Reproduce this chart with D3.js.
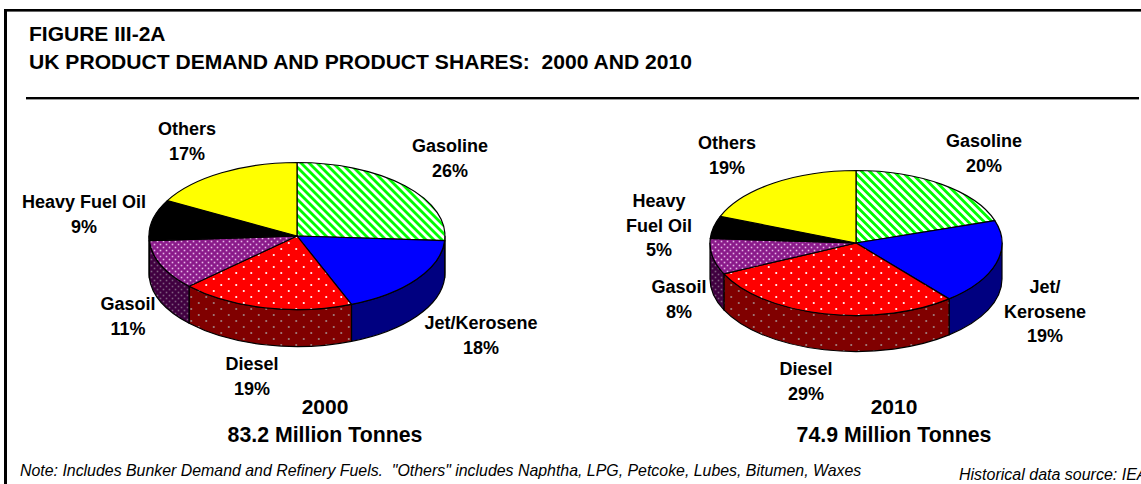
<!DOCTYPE html>
<html><head><meta charset="utf-8">
<script src="https://cdn.jsdelivr.net/npm/d3@7"></script>
<style>html,body{margin:0;padding:0;background:#fff;overflow:hidden}svg{display:block}
text{font-family:"Liberation Sans",Arial,sans-serif;fill:#000}</style></head><body>
<script>
const products = ["Gasoline","Jet/Kerosene","Diesel","Gasoil","Heavy Fuel Oil","Others"];
const shares2000 = [26,18,19,11,9,17];
const shares2010 = [20,19,29,8,5,19];
const years = ["2000","2010"];
const totals = ["83.2 Million Tonnes","74.9 Million Tonnes"];
const title1 = "FIGURE III-2A";
const title2 = "UK PRODUCT DEMAND AND PRODUCT SHARES:  2000 AND 2010";
const note = 'Note: Includes Bunker Demand and Refinery Fuels.  "Others" includes Naphtha, LPG, Petcoke, Lubes, Bitumen, Waxes';
const source = "Historical data source: IEA";

// layout (separate from the data)
const W = 1141, H = 484;
const pies = [
  {cx:297, cy:236, rx:148, ry:73.5, depth:37},
  {cx:856, cy:243, rx:146, ry:72.5, depth:36}
];
const labels = [
  [[450,146,["Gasoline"],0],[481,323,["Jet/Kerosene"],1],[252,364,["Diesel"],2],[128,304,["Gasoil"],3],[84,202,["Heavy Fuel Oil"],4],[187,129,["Others"],5]],
  [[984,141,["Gasoline"],0],[1045,287,["Jet/","Kerosene"],1],[806,369,["Diesel"],2],[679,287,["Gasoil"],3],[659,201,["Heavy","Fuel Oil"],4],[727,143,["Others"],5]]
];
const totalPos = [[325,414,442],[894,414,442]];

const svg = d3.select("body").append("svg").attr("width",W).attr("height",H);
const defs = svg.append("defs");

function stripes(id, bg, fg){
  const p = defs.append("pattern").attr("id",id).attr("patternUnits","userSpaceOnUse")
    .attr("width",5.66).attr("height",5.66).attr("patternTransform","rotate(-45)");
  p.append("rect").attr("width",5.66).attr("height",5.66).attr("fill",bg);
  p.append("rect").attr("width",2.83).attr("height",5.66).attr("fill",fg);
}
function dots(id, bg, fg, w, h, r){
  const p = defs.append("pattern").attr("id",id).attr("patternUnits","userSpaceOnUse")
    .attr("width",w).attr("height",h);
  p.append("rect").attr("width",w).attr("height",h).attr("fill",bg);
  [[w/4,h/4],[3*w/4,3*h/4]].forEach(([x,y])=>p.append("rect")
    .attr("x",x-r).attr("y",y-r).attr("width",2*r).attr("height",2*r).attr("fill",fg));
}
stripes("gas","#ffffff","#00ff00");
stripes("gasD","#808080","#008000");
dots("die","#ff0000","#ffffff",15,12,0.9);
dots("dieD","#800000","#a08080",15,12,0.9);
dots("goil","#8a1a8a","#e8b8e8",6,6,0.8);
dots("goilD","#400040","#806080",6,6,0.8);

const topFill  = ["url(#gas)","#0000ff","url(#die)","url(#goil)","#000000","#ffff00"];
const wallFill = ["url(#gasD)","#000080","url(#dieD)","url(#goilD)","#000000","#808000"];

const pieGen = d3.pie().sort(null).value(d=>d);

function drawPie(values, g){
  const x = d3.scaleLinear().domain([-1,1]).range([g.cx-g.rx,g.cx+g.rx]);
  const y = d3.scaleLinear().domain([-1,1]).range([g.cy-g.ry,g.cy+g.ry]);
  const px = a=>x(Math.sin(a)), py = a=>y(-Math.cos(a));
  const arcs = pieGen(values);
  const G = svg.append("g").attr("stroke","#000").attr("stroke-width",1.2).attr("stroke-linejoin","round");
  G.selectAll("path.wall").data(arcs.filter(d=>d.endAngle>Math.PI/2 && d.startAngle<3*Math.PI/2)).join("path")
    .attr("class","wall")
    .attr("fill",d=>wallFill[d.index])
    .attr("d",d=>{
      const a0=Math.max(d.startAngle,Math.PI/2), a1=Math.min(d.endAngle,3*Math.PI/2);
      return `M${px(a0)},${py(a0)}A${g.rx},${g.ry} 0 0 1 ${px(a1)},${py(a1)}`+
        `L${px(a1)},${py(a1)+g.depth}A${g.rx},${g.ry} 0 0 0 ${px(a0)},${py(a0)+g.depth}Z`;
    });
  G.selectAll("path.top").data(arcs).join("path")
    .attr("class","top")
    .attr("fill",d=>topFill[d.index])
    .attr("d",d=>{
      const large = d.endAngle-d.startAngle>Math.PI?1:0;
      return `M${g.cx},${g.cy}L${px(d.startAngle)},${py(d.startAngle)}`+
        `A${g.rx},${g.ry} 0 ${large} 1 ${px(d.endAngle)},${py(d.endAngle)}Z`;
    });
}
drawPie(shares2000,pies[0]);
drawPie(shares2010,pies[1]);

svg.append("rect").attr("x",4).attr("y",9).attr("width",W).attr("height",2.6).attr("fill","#000");
svg.append("rect").attr("x",4).attr("y",9).attr("width",3).attr("height",H).attr("fill","#000");
svg.append("rect").attr("x",26).attr("y",97).attr("width",1113).attr("height",2.4).attr("fill","#000");

const bold = (x,y,t,size,anchor)=>svg.append("text").attr("x",x).attr("y",y)
  .attr("font-size",size).attr("font-weight","bold").attr("text-anchor",anchor||"middle")
  .style("white-space","pre").text(t);
bold(29,41,title1,21,"start");
bold(29,69,title2,21.1,"start");

[shares2000,shares2010].forEach((vals,i)=>{
  labels[i].forEach(([x,y,lines,k])=>{
    lines.forEach((l,j)=>bold(x,y+6+j*24.5,l,18));
    bold(x,y+6+lines.length*24.5,vals[k]+"%",18);
  });
  bold(totalPos[i][0],totalPos[i][1],years[i],21);
  bold(totalPos[i][0],totalPos[i][2],totals[i],21.3);
});

svg.append("text").attr("x",20).attr("y",476).attr("font-size",15.9).attr("font-style","italic")
  .style("white-space","pre").text(note);
svg.append("text").attr("x",959).attr("y",480).attr("font-size",16).attr("font-style","italic")
  .style("white-space","pre").text(source);
</script></body></html>
